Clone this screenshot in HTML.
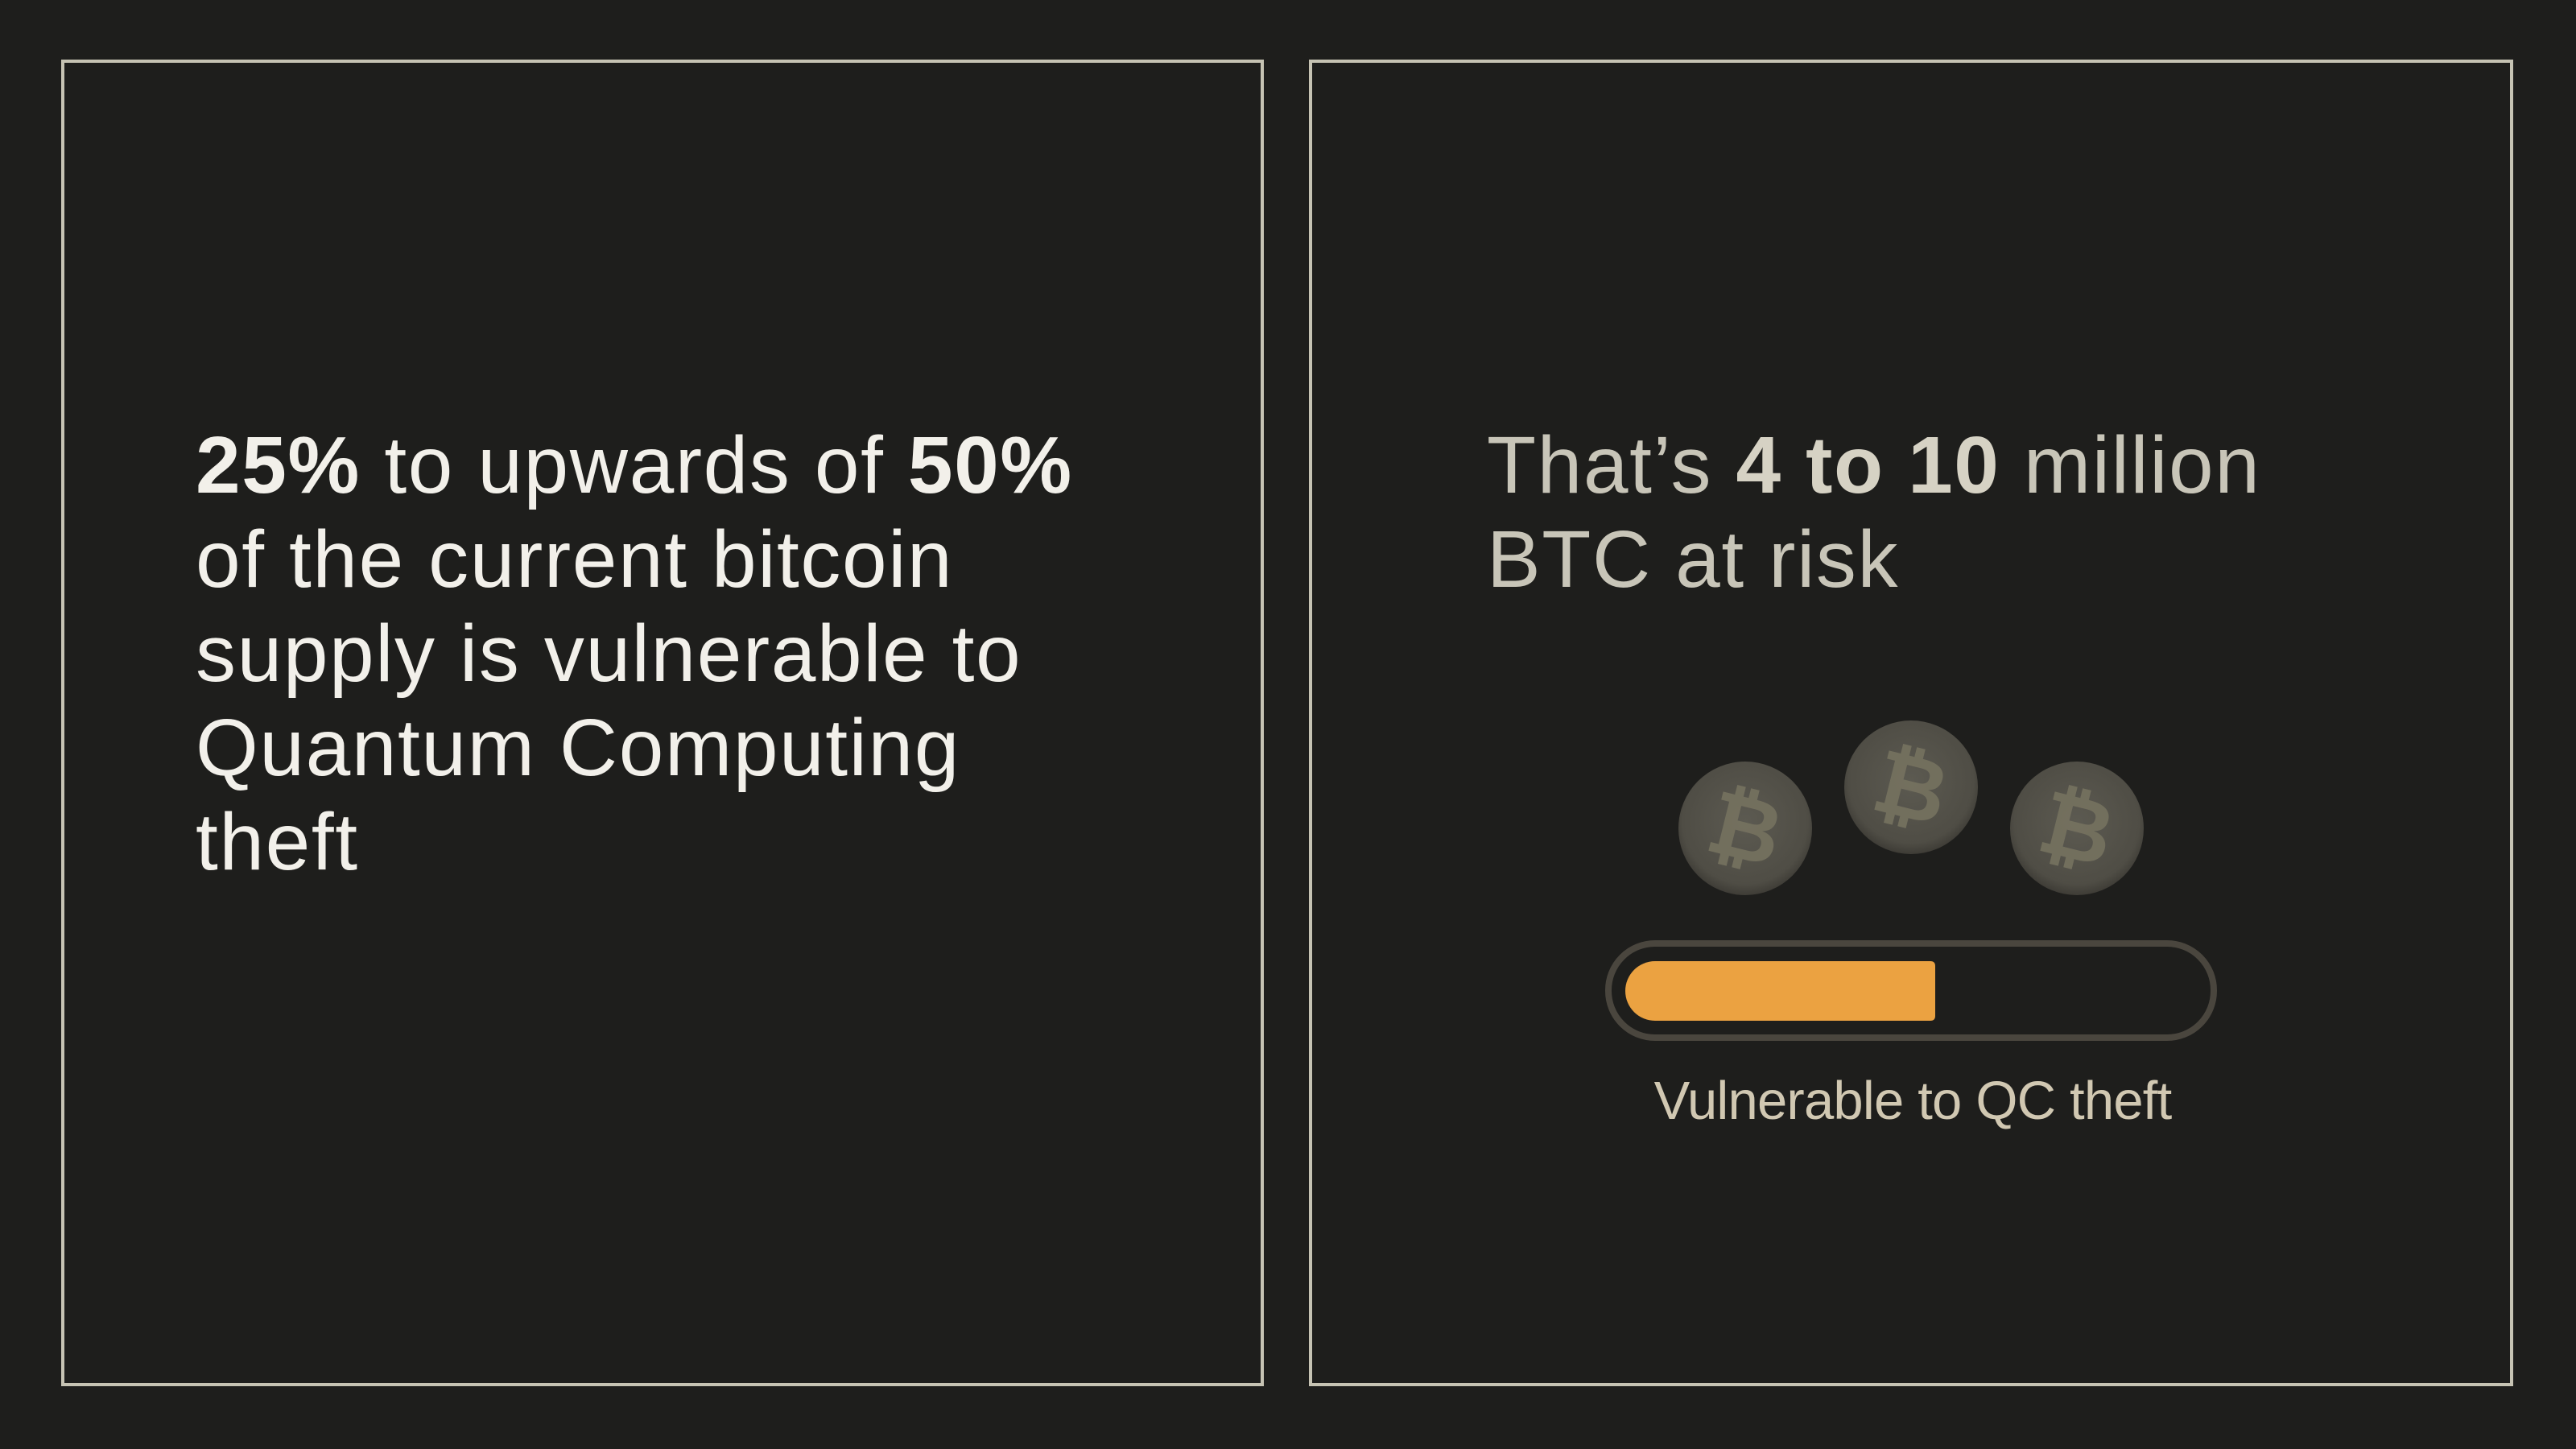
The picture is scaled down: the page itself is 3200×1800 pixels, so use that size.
<!DOCTYPE html>
<html><head><meta charset="utf-8"><style>
html,body{margin:0;padding:0;background:#1e1e1c;}
#root{position:relative;width:3200px;height:1800px;background:#1e1e1c;overflow:hidden;font-family:"Liberation Sans",sans-serif;}
.panel{position:absolute;border:4px solid #c6c3b3;box-sizing:border-box;}
.txt{position:absolute;white-space:nowrap;font-size:100px;line-height:117px;letter-spacing:1.6px;}
.line{display:block;height:117px;}
b{font-weight:700;}
</style></head><body>
<div id="root">
  <div class="panel" style="left:76px;top:74px;width:1494px;height:1648px;"></div>
  <div class="panel" style="left:1626px;top:74px;width:1496px;height:1648px;"></div>

  <div class="txt" style="left:243px;top:520px;color:#f2f0ea;font-weight:400;">
    <span class="line"><b>25%</b> to upwards of <b>50%</b></span>
    <span class="line">of the current bitcoin</span>
    <span class="line">supply is vulnerable to</span>
    <span class="line">Quantum Computing</span>
    <span class="line">theft</span>
  </div>

  <div class="txt" style="left:1847px;top:520px;color:#c8c5b8;">
    <span class="line">That’s <b style="color:#d6d2c4">4 to 10</b> million</span>
    <span class="line">BTC at risk</span>
  </div>

  <svg style="position:absolute;left:0;top:0" width="3200" height="1800">
    <defs>
      <radialGradient id="cg" cx="50%" cy="45%" r="55%">
        <stop offset="0%" stop-color="#5c5a51"/><stop offset="85%" stop-color="#4f4d45"/><stop offset="100%" stop-color="#3e3c36"/>
      </radialGradient>
    </defs>
    <g transform="translate(2168,1029)">
      <circle r="83" fill="url(#cg)"/>
      <text transform="rotate(14)" x="0" y="38" text-anchor="middle" font-family="DejaVu Sans,Liberation Sans,sans-serif" font-weight="700" font-size="110" fill="#75725f" fill-opacity="0.9">₿</text>
    </g>
    <g transform="translate(2374,978)">
      <circle r="83" fill="url(#cg)"/>
      <text transform="rotate(14)" x="0" y="38" text-anchor="middle" font-family="DejaVu Sans,Liberation Sans,sans-serif" font-weight="700" font-size="110" fill="#75725f" fill-opacity="0.9">₿</text>
    </g>
    <g transform="translate(2580,1029)">
      <circle r="83" fill="url(#cg)"/>
      <text transform="rotate(14)" x="0" y="38" text-anchor="middle" font-family="DejaVu Sans,Liberation Sans,sans-serif" font-weight="700" font-size="110" fill="#75725f" fill-opacity="0.9">₿</text>
    </g>
    <rect x="1998" y="1172" width="752" height="117" rx="58" fill="none" stroke="#4a463e" stroke-width="8"/>
    <path d="M2056,1194 H2398 Q2404,1194 2404,1200 V1262 Q2404,1268 2398,1268 H2056 A37,37 0 0 1 2056,1194 Z" fill="#eba241"/>
    <text x="2376" y="1390" text-anchor="middle" font-family="Liberation Sans,sans-serif" font-size="67" letter-spacing="-0.8" fill="#d1c8b2">Vulnerable to QC theft</text>
  </svg>
</div>
</body></html>
